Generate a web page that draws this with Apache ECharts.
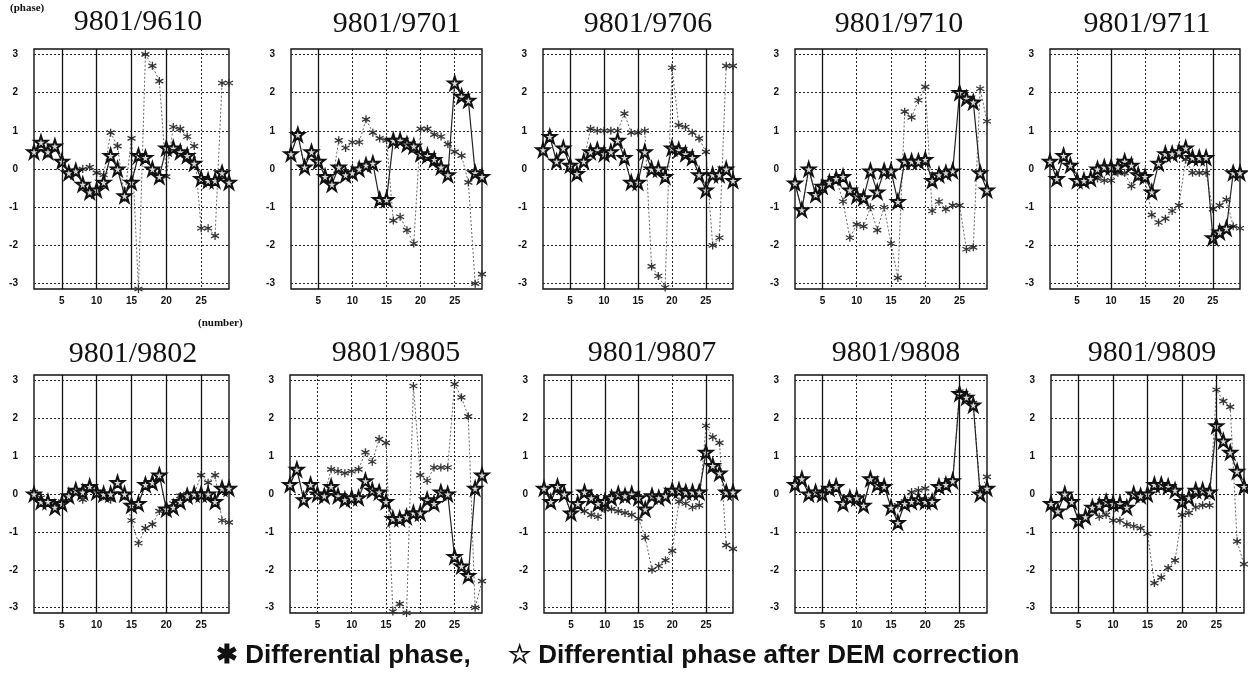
<!DOCTYPE html>
<html><head><meta charset="utf-8">
<script src="https://cdn.jsdelivr.net/npm/echarts@6/dist/echarts.min.js"></script>
<style>html,body{margin:0;padding:0;background:#fff}#c{width:1248px;height:681px}</style>
</head><body><div id="c"></div>
<script>
// ---------- data ----------
const pointNumbers = [1,2,3,4,5,6,7,8,9,10,11,12,13,14,15,16,17,18,19,20,21,22,23,24,25,26,27,28,29];
const xTicks = [5,10,15,20,25];
const yTicks = [-3,-2,-1,0,1,2,3];
const titles = ['9801/9610','9801/9701','9801/9706','9801/9710','9801/9711','9801/9802','9801/9805','9801/9807','9801/9808','9801/9809'];

const phase9610 = [0.45,0.65,0.4,0.55,0.2,-0.1,-0.05,0.0,0.05,-0.1,-0.15,0.95,0.6,-0.75,0.8,-3.14,3.0,2.7,2.3,-0.2,1.1,1.05,0.85,0.6,-1.55,-1.55,-1.75,2.25,2.25];
const dem9610   = [0.45,0.7,0.45,0.6,0.2,-0.1,-0.05,-0.4,-0.6,-0.55,-0.35,0.35,0.0,-0.7,-0.35,0.35,0.3,0.0,-0.2,0.55,0.55,0.45,0.35,0.15,-0.25,-0.3,-0.3,-0.1,-0.35];
const phase9701 = [0.4,0.9,0.05,0.45,0.2,-0.2,-0.4,0.75,0.55,0.7,0.7,1.3,0.95,0.8,0.75,-1.35,-1.25,-1.6,-1.95,1.05,1.05,0.9,0.85,0.65,0.45,0.35,-0.35,-3.0,-2.75];
const dem9701   = [0.4,0.9,0.05,0.45,0.2,-0.2,-0.4,0.05,-0.15,-0.1,0.0,0.1,0.15,-0.8,-0.8,0.75,0.75,0.65,0.6,0.4,0.35,0.25,0.05,-0.15,2.25,1.9,1.8,-0.1,-0.2];
const phase9706 = [0.5,0.85,0.2,0.55,0.1,-0.1,0.2,1.05,1.0,1.0,1.0,1.0,1.45,0.95,0.95,1.0,-2.55,-2.8,-3.1,2.65,1.15,1.1,0.95,0.8,0.45,-2.0,-1.8,2.7,2.7];
const dem9706   = [0.5,0.85,0.2,0.55,0.1,-0.12,0.2,0.45,0.5,0.4,0.45,0.75,0.3,-0.35,-0.35,0.45,0.0,0.0,-0.2,0.55,0.5,0.4,0.3,-0.15,-0.55,-0.15,-0.15,0.0,-0.3];
const phase9710 = [-0.37,-1.07,0.0,-0.67,-0.45,-0.35,-0.25,-0.85,-1.8,-1.45,-1.5,-1.0,-1.6,-1.0,-1.95,-2.85,1.5,1.35,1.8,2.15,-1.1,-0.85,-1.05,-0.95,-0.95,-2.1,-2.05,2.1,1.25];
const dem9710   = [-0.37,-1.07,0.0,-0.67,-0.45,-0.35,-0.25,-0.2,-0.55,-0.7,-0.75,-0.05,-0.6,-0.05,-0.05,-0.85,0.2,0.2,0.2,0.25,-0.3,-0.15,-0.1,-0.05,2.0,1.85,1.75,-0.1,-0.55];
const phase9711 = [0.2,-0.25,0.35,0.1,-0.3,-0.3,-0.25,-0.25,-0.3,-0.3,-0.1,-0.1,-0.45,-0.2,-0.25,-1.2,-1.4,-1.3,-1.1,-0.95,0.25,-0.1,-0.1,-0.1,-1.05,-0.95,-0.8,-1.5,-1.55];
const dem9711   = [0.2,-0.25,0.35,0.1,-0.3,-0.3,-0.25,0.0,0.05,0.05,0.05,0.2,0.1,-0.15,-0.2,-0.6,0.15,0.4,0.4,0.45,0.55,0.3,0.3,0.3,-1.8,-1.65,-1.55,-0.1,-0.1];
const phase9802 = [0.05,-0.1,-0.2,-0.3,-0.2,-0.05,0.1,-0.15,0.15,0.05,-0.05,-0.15,0.3,-0.05,-0.7,-1.3,-0.9,-0.8,-0.45,-0.4,-0.25,-0.05,0.0,0.0,0.5,0.3,0.5,-0.7,-0.75];
const dem9802   = [0.0,-0.2,-0.2,-0.35,-0.25,-0.05,0.1,0.05,0.2,0.05,0.0,0.0,0.3,0.0,-0.3,-0.25,0.25,0.3,0.5,-0.4,-0.35,-0.2,-0.05,0.0,0.0,0.0,-0.2,0.15,0.15];
const phase9805 = [0.25,0.65,-0.15,0.25,0.0,-0.05,0.65,0.6,0.55,0.6,0.65,1.1,0.85,1.45,1.35,-3.1,-2.9,-3.14,2.85,0.5,0.35,0.7,0.7,0.7,2.9,2.55,2.05,-3.0,-2.3];
const dem9805   = [0.25,0.65,-0.15,0.25,0.0,-0.05,0.2,-0.05,-0.15,-0.1,-0.1,0.35,0.1,0.05,-0.2,-0.65,-0.65,-0.6,-0.5,-0.5,-0.15,-0.25,0.05,0.0,-1.65,-1.9,-2.15,0.15,0.5];
const phase9807 = [0.15,-0.2,0.2,0.0,-0.5,-0.25,-0.45,-0.55,-0.6,-0.4,-0.4,-0.45,-0.5,-0.55,-0.65,-1.15,-2.0,-1.9,-1.75,-1.5,-0.2,-0.25,-0.35,-0.3,1.8,1.5,1.35,-1.35,-1.45];
const dem9807   = [0.15,-0.2,0.2,0.0,-0.5,-0.25,0.05,-0.1,-0.25,-0.2,-0.1,0.0,-0.05,0.0,-0.1,-0.4,-0.05,-0.1,-0.05,0.1,0.1,0.05,0.05,0.05,1.1,0.75,0.55,0.05,0.05];
const phase9808 = [0.25,0.4,0.0,0.05,0.0,0.15,0.2,-0.25,-0.1,-0.1,-0.3,0.4,0.25,0.2,-0.35,-0.3,-0.2,0.05,0.1,0.15,-0.15,0.2,0.25,0.35,2.7,2.6,2.4,0.05,0.45];
const dem9808   = [0.25,0.4,0.0,0.05,0.0,0.15,0.2,-0.25,-0.1,-0.1,-0.3,0.4,0.25,0.2,-0.35,-0.75,-0.25,-0.2,-0.15,-0.2,-0.2,0.2,0.25,0.35,2.65,2.55,2.35,0.0,0.15];
const phase9809 = [-0.25,-0.45,0.0,-0.2,-0.7,-0.6,-0.4,-0.6,-0.55,-0.7,-0.7,-0.8,-0.85,-0.9,-1.05,-2.35,-2.2,-1.95,-1.75,-0.55,-0.5,-0.35,-0.3,-0.3,2.75,2.45,2.3,-1.25,-1.85];
const dem9809   = [-0.25,-0.45,0.0,-0.2,-0.7,-0.6,-0.35,-0.3,-0.2,-0.25,-0.25,-0.35,0.0,-0.05,0.0,0.25,0.25,0.2,0.1,-0.2,-0.1,0.1,0.1,0.05,1.8,1.4,1.1,0.6,0.2];

const phaseSets = [phase9610,phase9701,phase9706,phase9710,phase9711,phase9802,phase9805,phase9807,phase9808,phase9809];
const demSets   = [dem9610,dem9701,dem9706,dem9710,dem9711,dem9802,dem9805,dem9807,dem9808,dem9809];

// ---------- layout / style ----------
const layout = [
  {l:34,  t:49,  w:195, h:240, tx:138,  ty:22},
  {l:291, t:49,  w:191, h:240, tx:397,  ty:24},
  {l:543, t:49,  w:190, h:240, tx:648,  ty:24},
  {l:795, t:49,  w:192, h:240, tx:899,  ty:24},
  {l:1050,t:49,  w:190, h:240, tx:1147, ty:24},
  {l:34,  t:375, w:195, h:238, tx:133,  ty:354},
  {l:290, t:375, w:192, h:238, tx:396,  ty:353},
  {l:544, t:375, w:189, h:238, tx:652,  ty:353},
  {l:795, t:375, w:192, h:238, tx:896,  ty:353},
  {l:1051,t:375, w:193, h:238, tx:1152, ty:353}
];
const solidVertical = [[5,10,15,20],[5],[5,10,15,25],[5,25],[10,25],[5,10,15,20,25],[],[5,10,15,25],[5,25],[5,10,15,20,25]];

const STAR = 'path://M0,-10L2.245,-3.09L9.51,-3.09L3.633,1.18L5.88,8.09L0,3.82L-5.88,8.09L-3.633,1.18L-9.51,-3.09L-2.245,-3.09Z';
const AST  = 'path://M0,-10L0,10M-8.66,-5L8.66,5M-8.66,5L8.66,-5';

const grids=[], xAxes=[], yAxes=[], series=[], graphics=[];
layout.forEach((L,i)=>{
  grids.push({left:L.l, top:L.t, width:L.w, height:L.h, show:true, borderColor:'#111', borderWidth:1.4, backgroundColor:'transparent'});
  xAxes.push({type:'value', gridIndex:i, min:1, max:29,
    axisLine:{show:false}, axisTick:{show:false, customValues:xTicks},
    axisLabel:{customValues:xTicks, margin:7, fontFamily:'Liberation Sans', fontWeight:'bold', fontSize:10, color:'#111'},
    splitLine:{show:true, lineStyle:{type:[2,2], color:'#222', width:1}}});
  yAxes.push({type:'value', gridIndex:i, min:-3.14, max:3.14,
    axisLine:{show:false}, axisTick:{show:false, customValues:yTicks},
    axisLabel:{customValues:yTicks, margin:16, fontFamily:'Liberation Sans', fontWeight:'bold', fontSize:10, color:'#111'},
    splitLine:{show:true, lineStyle:{type:[2,2], color:'#222', width:1}}});
  series.push({type:'line', xAxisIndex:i, yAxisIndex:i, name:'Differential phase',
    data: pointNumbers.map((x,k)=>[x, phaseSets[i][k]]),
    symbol:AST, symbolSize:8, showAllSymbol:true,
    lineStyle:{type:[2,2], color:'#666', width:1},
    itemStyle:{color:'#333', borderColor:'#333', borderWidth:1.3},
    markLine:{silent:true, symbol:'none', label:{show:false},
      lineStyle:{type:'solid', color:'#111', width:1.3},
      data: solidVertical[i].map(v=>({xAxis:v}))},
    silent:true, z:2});
  series.push({type:'line', xAxisIndex:i, yAxisIndex:i, name:'Differential phase after DEM correction',
    data: pointNumbers.map((x,k)=>[x, demSets[i][k]]),
    symbol:STAR, symbolSize:13, showAllSymbol:true,
    lineStyle:{type:'solid', color:'#222', width:1.2},
    itemStyle:{color:'#d8d8d8', borderColor:'#111', borderWidth:2},
    silent:true, z:3});
  graphics.push({type:'text', x:L.tx, y:L.ty, style:{text:titles[i], font:'30px "Liberation Serif"', fill:'#111', textAlign:'center', textVerticalAlign:'middle'}});
});
graphics.push({type:'text', x:10, y:8, style:{text:'(phase)', font:'bold 11px "Liberation Serif"', fill:'#111', textAlign:'left', textVerticalAlign:'middle'}});
graphics.push({type:'text', x:198, y:323, style:{text:'(number)', font:'bold 11px "Liberation Serif"', fill:'#111', textAlign:'left', textVerticalAlign:'middle'}});
graphics.push({type:'text', x:216, y:656, style:{text:'\u2731 Differential phase,', font:'bold 26px "Liberation Sans"', fill:'#111', textAlign:'left', textVerticalAlign:'middle'}});
graphics.push({type:'text', x:508, y:656, style:{text:'\u2606 Differential phase after DEM correction', font:'bold 26px "Liberation Sans"', fill:'#111', textAlign:'left', textVerticalAlign:'middle'}});

const chart = echarts.init(document.getElementById('c'), null, {renderer:'canvas'});
chart.setOption({animation:false, backgroundColor:'#fff', grid:grids, xAxis:xAxes, yAxis:yAxes, series:series, graphic:graphics});
</script></body></html>
